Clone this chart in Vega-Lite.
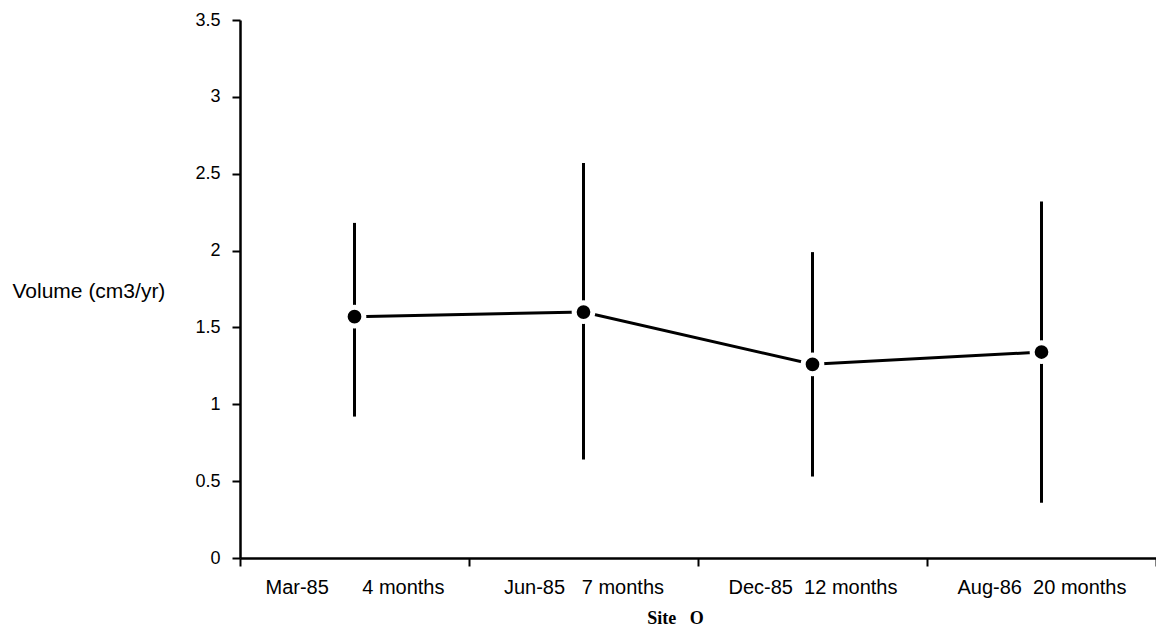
{
  "$schema": "https://vega.github.io/schema/vega-lite/v6.json",
  "width": 916,
  "height": 538,
  "autosize": "none",
  "padding": {"left": 240, "top": 20, "right": 0, "bottom": 74},
  "background": "white",
  "config": {
    "view": {"stroke": null},
    "axis": {"grid": false, "domainColor": "black", "domainWidth": 2.5, "tickColor": "black", "tickWidth": 2, "labelColor": "black", "titleColor": "black", "labelFont": "Liberation Sans", "titleFont": "Liberation Sans"}
  },
  "data": {"values": [
    {"period": "Mar-85\u00a0\u00a0\u00a0\u00a0\u00a0\u00a04 months", "mean": 1.57, "low": 0.92, "high": 2.18},
    {"period": "Jun-85\u00a0\u00a0\u00a07 months", "mean": 1.60, "low": 0.64, "high": 2.57},
    {"period": "Dec-85\u00a0\u00a012 months", "mean": 1.26, "low": 0.53, "high": 1.99},
    {"period": "Aug-86\u00a0\u00a020 months", "mean": 1.34, "low": 0.36, "high": 2.32}
  ]},
  "encoding": {
    "x": {
      "field": "period", "type": "nominal", "sort": null,
      "scale": {"type": "band", "paddingInner": 0, "paddingOuter": 0},
      "axis": {"title": "Site\u00a0\u00a0\u00a0O", "titleFont": "Liberation Serif", "titleFontWeight": "bold", "titleFontSize": 18, "titleX": 435, "titleY": 65, "titleBaseline": "alphabetic", "labelAngle": 0, "labelFontSize": 20, "labelPadding": 11, "labelDx": 6, "tickBand": "extent", "tickSize": 8}
    }
  },
  "layer": [
    {
      "mark": {"type": "rule", "color": "black", "strokeWidth": 3},
      "encoding": {
        "y": {"field": "low", "type": "quantitative", "scale": {"domain": [0, 3.5]},
          "axis": {"title": "Volume (cm3/yr)", "titleAngle": 0, "titleAlign": "left", "titleBaseline": "middle", "titleX": -228, "titleY": 271, "titleFontSize": 21, "titleFontWeight": "normal", "values": [0, 0.5, 1, 1.5, 2, 2.5, 3, 3.5], "format": "~g", "labelFontSize": 18, "tickSize": 8, "labelPadding": 12}},
        "y2": {"field": "high"}
      }
    },
    {
      "mark": {"type": "line", "color": "black", "strokeWidth": 3},
      "encoding": {"y": {"field": "mean", "type": "quantitative"}}
    },
    {
      "mark": {"type": "point", "filled": true, "fill": "black", "stroke": "white", "strokeWidth": 5, "size": 350, "opacity": 1, "strokeOpacity": 1},
      "encoding": {"y": {"field": "mean", "type": "quantitative"}}
    }
  ]
}
